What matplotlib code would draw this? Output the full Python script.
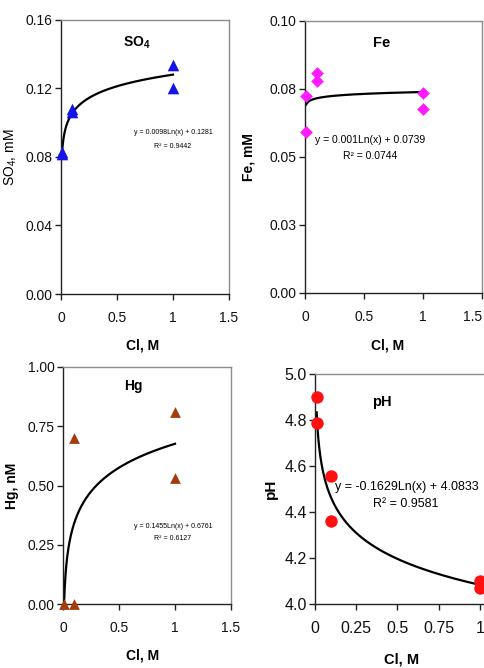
import numpy as np
import matplotlib
matplotlib.use("Agg")
import matplotlib.pyplot as plt

plt.rcParams['font.family'] = ['Liberation Sans', 'DejaVu Sans']
plt.rcParams['mathtext.fontset'] = 'custom'
plt.rcParams['mathtext.rm'] = 'Liberation Sans'
plt.rcParams['mathtext.bf'] = 'Liberation Sans:bold'
plt.rcParams['mathtext.it'] = 'Liberation Sans:italic'

# ---- data ----
so4_x = [0.01, 0.01, 0.1, 0.1, 1, 1]
so4_y = [0.082, 0.083, 0.106, 0.108, 0.134, 0.120]
so4_fit = [0.0098, 0.1281]

fe_x = [0.01, 0.01, 0.1, 0.1, 1, 1]
fe_y = [0.0724, 0.0592, 0.0808, 0.0780, 0.0734, 0.0675]
fe_fit = [0.001, 0.0739]

hg_x = [0.01, 0.1, 0.1, 1, 1]
hg_y = [0.0, 0.0, 0.70, 0.81, 0.53]
hg_fit = [0.1455, 0.6761]

ph_x = [0.01, 0.01, 0.1, 0.1, 1, 1]
ph_y = [4.90, 4.785, 4.555, 4.36, 4.10, 4.07]
ph_fit = [-0.1629, 4.0833]

x_ticks = [0, 0.5, 1, 1.5]
x_labels = ['0', '0.5', '1', '1.5']
ph_x_ticks = [0, 0.25, 0.5, 0.75, 1]
ph_x_labels = ['0', '0.25', '0.5', '0.75', '1']
so4_yticks = [0.0, 0.04, 0.08, 0.12, 0.16]
so4_ylabels = ['0.00', '0.04', '0.08', '0.12', '0.16']
fe_yticks = [0.0, 0.025, 0.05, 0.075, 0.10]
fe_ylabels = ['0.00', '0.03', '0.05', '0.08', '0.10']
hg_yticks = [0.0, 0.25, 0.5, 0.75, 1.0]
hg_ylabels = ['0.00', '0.25', '0.50', '0.75', '1.00']
ph_yticks = [4.0, 4.2, 4.4, 4.6, 4.8, 5.0]
ph_ylabels = ['4.0', '4.2', '4.4', '4.6', '4.8', '5.0']

W, H = 484, 668
fig = plt.figure(figsize=(W / 100, H / 100), dpi=100)
fig.patch.set_facecolor('white')


def px_axes(l, t, r, b):
    return fig.add_axes([l / W, (H - b) / H, (r - l) / W, (b - t) / H])


def style(ax, fs):
    for s in ['left', 'bottom']:
        ax.spines[s].set_color('#222222')
        ax.spines[s].set_linewidth(1.0)
    for s in ['top', 'right']:
        ax.spines[s].set_color('#8c8c8c')
        ax.spines[s].set_linewidth(1.0)
    ax.tick_params(direction='out', length=4, width=1, colors='#222222',
                   labelsize=fs, labelcolor='#111111')
    ax.tick_params(axis='x', pad=8)
    ax.tick_params(axis='y', pad=2)


def trend(ax, fit, x0=0.01, x1=1.0):
    xs = np.linspace(x0, x1, 400)
    ax.plot(xs, fit[0] * np.log(xs) + fit[1], color='black', lw=1.6, zorder=2)


bold = dict(weight='bold')

# Panel 1: SO4
ax1 = px_axes(61, 20, 229, 294)
trend(ax1, so4_fit)
ax1.scatter(so4_x, so4_y, marker='^', s=70, color='#1414e6', zorder=3, clip_on=False, linewidths=0)
ax1.set_xlim(0, 1.5)
ax1.set_ylim(0, 0.16)
ax1.set_xticks(x_ticks)
ax1.set_xticklabels(x_labels)
ax1.set_yticks(so4_yticks)
ax1.set_yticklabels(so4_ylabels)
style(ax1, 10)
ax1.set_xlabel('Cl, M', fontsize=10, **bold)
ax1.xaxis.set_label_coords(0.488, -0.164)
ax1.set_ylabel('SO$_4$, mM', fontsize=10)
ax1.yaxis.set_label_coords(-0.25, 0.5)
ax1.text(0.452, 0.916, r'$\mathbf{SO_4}$', transform=ax1.transAxes, ha='center', va='center', fontsize=10)
ax1.text(0.667, 0.591, 'y = 0.0098Ln(x) + 0.1281', transform=ax1.transAxes, ha='center', va='center', fontsize=5)
ax1.text(0.667, 0.540, 'R² = 0.9442', transform=ax1.transAxes, ha='center', va='center', fontsize=5)

# Panel 2: Fe
ax2 = px_axes(305, 21, 482, 293)
trend(ax2, fe_fit)
ax2.scatter(fe_x, fe_y, marker='D', s=42, color='#ff1aff', zorder=3, clip_on=False, linewidths=0)
ax2.set_xlim(0, 1.5)
ax2.set_ylim(0, 0.10)
ax2.set_xticks(x_ticks)
ax2.set_xticklabels(x_labels)
ax2.get_xticklabels()[-1].set_horizontalalignment('right')
ax2.set_yticks(fe_yticks)
ax2.set_yticklabels(fe_ylabels)
style(ax2, 10)
ax2.set_xlabel('Cl, M', fontsize=10, **bold)
ax2.xaxis.set_label_coords(0.469, -0.169)
ax2.set_ylabel('Fe, mM', fontsize=10, **bold)
ax2.yaxis.set_label_coords(-0.277, 0.5)
ax2.text(0.435, 0.919, 'Fe', transform=ax2.transAxes, ha='center', va='center', fontsize=10.5, **bold)
ax2.text(0.367, 0.5625, 'y = 0.001Ln(x) + 0.0739', transform=ax2.transAxes, ha='center', va='center', fontsize=7.5)
ax2.text(0.367, 0.504, 'R² = 0.0744', transform=ax2.transAxes, ha='center', va='center', fontsize=7.5)

# Panel 3: Hg
ax3 = px_axes(63, 367, 231, 604)
trend(ax3, hg_fit)
ax3.scatter(hg_x, hg_y, marker='^', s=60, color='#a33b0c', zorder=3, clip_on=False, linewidths=0)
ax3.set_xlim(0, 1.5)
ax3.set_ylim(0, 1.0)
ax3.set_xticks(x_ticks)
ax3.set_xticklabels(x_labels)
ax3.set_yticks(hg_yticks)
ax3.set_yticklabels(hg_ylabels)
style(ax3, 10)
ax3.set_xlabel('Cl, M', fontsize=10, **bold)
ax3.xaxis.set_label_coords(0.476, -0.186)
ax3.set_ylabel('Hg, nM', fontsize=10, **bold)
ax3.yaxis.set_label_coords(-0.262, 0.5)
ax3.text(0.417, 0.92, 'Hg', transform=ax3.transAxes, ha='center', va='center', fontsize=10, **bold)
ax3.text(0.655, 0.325, 'y = 0.1455Ln(x) + 0.6761', transform=ax3.transAxes, ha='center', va='center', fontsize=5)
ax3.text(0.655, 0.278, 'R² = 0.6127', transform=ax3.transAxes, ha='center', va='center', fontsize=5)

# Panel 4: pH
ax4 = px_axes(315, 374, 521, 604)
trend(ax4, ph_fit)
ax4.scatter(ph_x, ph_y, marker='o', s=80, color='#ff1010', zorder=3, clip_on=False, linewidths=0)
ax4.set_xlim(0, 1.25)
ax4.set_ylim(4.0, 5.0)
ax4.set_xticks(ph_x_ticks)
ax4.set_xticklabels(ph_x_labels)
ax4.set_yticks(ph_yticks)
ax4.set_yticklabels(ph_ylabels)
style(ax4, 11.5)
ax4.set_xlabel('Cl, M', fontsize=10.5, **bold)
ax4.xaxis.set_label_coords(0.422, -0.213)
ax4.set_ylabel('pH', fontsize=11, **bold)
ax4.yaxis.set_label_coords(-0.18, 0.5)
ax4.text(0.325, 0.878, 'pH', transform=ax4.transAxes, ha='center', va='center', fontsize=10.5, **bold)
ax4.text(0.447, 0.509, 'y = -0.1629Ln(x) + 4.0833', transform=ax4.transAxes, ha='center', va='center', fontsize=9)
ax4.text(0.44, 0.435, 'R² = 0.9581', transform=ax4.transAxes, ha='center', va='center', fontsize=9)

fig.savefig('out.png', dpi=100, facecolor='white')
